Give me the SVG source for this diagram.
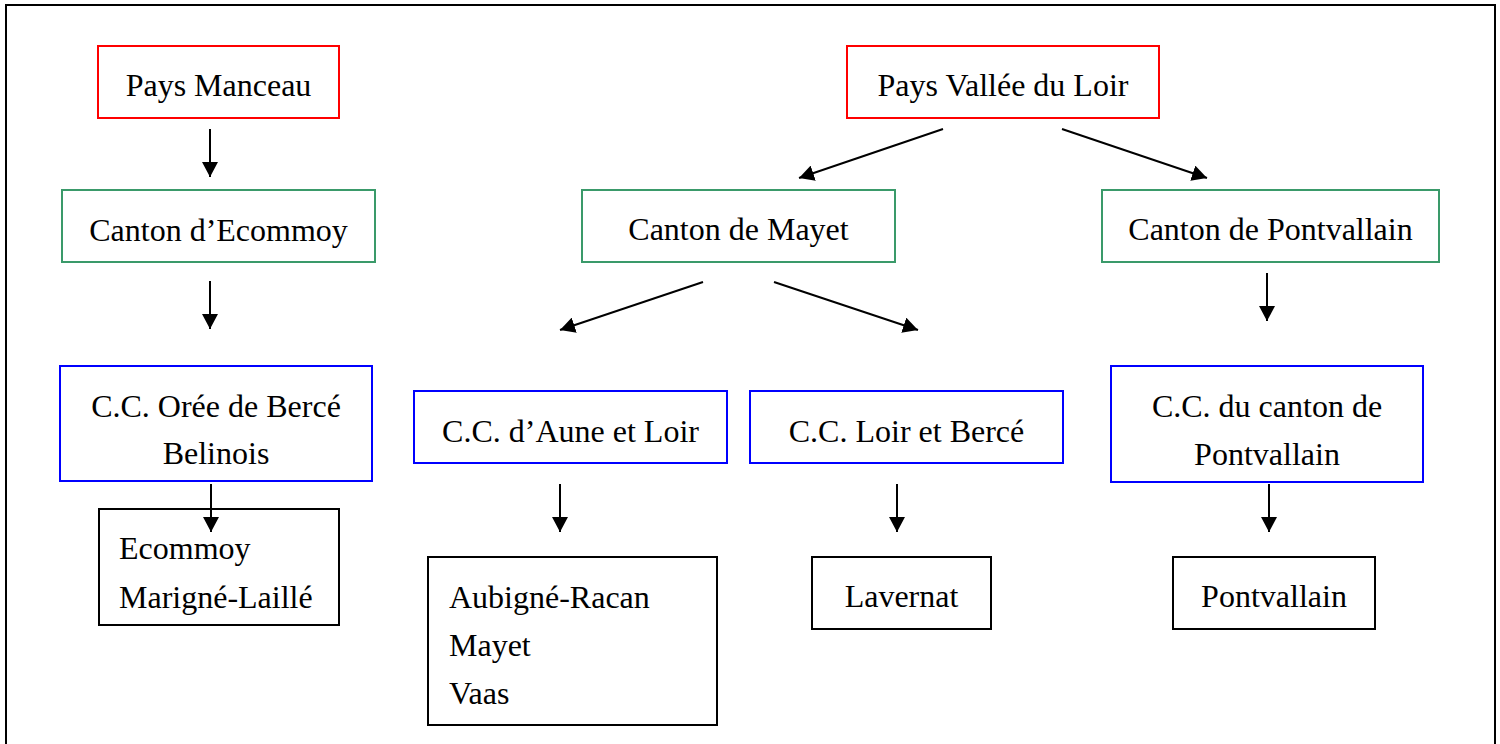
<svg xmlns="http://www.w3.org/2000/svg" width="1500" height="744" viewBox="0 0 1500 744">
  <style>
    .box { fill: #ffffff; stroke-width: 2; }
    .red { stroke: #ff0000; }
    .green { stroke: #3a9a6a; }
    .blue { stroke: #0000ff; }
    .black { stroke: #000000; }
    .t { font-family: "Liberation Serif", "Times New Roman", serif; font-size: 32px; fill: #000000; }
    .c { text-anchor: middle; }
    .conn line { stroke: #000000; stroke-width: 2; marker-end: url(#arrow); }
  </style>
  <defs>
    <marker id="arrow" markerUnits="userSpaceOnUse" viewBox="0 0 15 16" refX="15" refY="8" markerWidth="15" markerHeight="16" orient="auto">
      <path d="M0,0 L15,8 L0,16 z" fill="#000000"/>
    </marker>
  </defs>
  <rect x="0" y="0" width="1500" height="744" fill="#ffffff"/>
  <rect x="6" y="5" width="1489" height="780" fill="none" stroke="#000000" stroke-width="2"/>

  <g id="pays-manceau">
    <rect class="box red" x="98" y="46" width="241" height="72"/>
    <text class="t c" x="218.5" y="96">Pays Manceau</text>
  </g>
  <g id="pays-vallee-du-loir">
    <rect class="box red" x="847" y="46" width="312" height="72"/>
    <text class="t c" x="1003" y="96">Pays Vallée du Loir</text>
  </g>
  <g id="canton-ecommoy">
    <rect class="box green" x="62" y="190" width="313" height="72"/>
    <text class="t c" x="218.5" y="241">Canton d’Ecommoy</text>
  </g>
  <g id="canton-mayet">
    <rect class="box green" x="582" y="190" width="313" height="72"/>
    <text class="t c" x="738.5" y="240">Canton de Mayet</text>
  </g>
  <g id="canton-pontvallain">
    <rect class="box green" x="1102" y="190" width="337" height="72"/>
    <text class="t c" x="1270.5" y="240">Canton de Pontvallain</text>
  </g>
  <g id="cc-oree-de-berce">
    <rect class="box blue" x="60" y="366" width="312" height="115"/>
    <text class="t c" x="216" y="417">C.C. Orée de Bercé</text>
    <text class="t c" x="216" y="464">Belinois</text>
  </g>
  <g id="cc-aune-et-loir">
    <rect class="box blue" x="414" y="391" width="313" height="72"/>
    <text class="t c" x="570.5" y="442">C.C. d’Aune et Loir</text>
  </g>
  <g id="cc-loir-et-berce">
    <rect class="box blue" x="750" y="391" width="313" height="72"/>
    <text class="t c" x="906.5" y="442">C.C. Loir et Bercé</text>
  </g>
  <g id="cc-canton-pontvallain">
    <rect class="box blue" x="1111" y="366" width="312" height="116"/>
    <text class="t c" x="1267" y="417">C.C. du canton de</text>
    <text class="t c" x="1267" y="465">Pontvallain</text>
  </g>
  <g id="communes-ecommoy">
    <rect class="box black" x="99" y="509" width="240" height="116"/>
    <text class="t" x="119" y="559">Ecommoy</text>
    <text class="t" x="119" y="608">Marigné-Laillé</text>
  </g>
  <g id="communes-aune-loir">
    <rect class="box black" x="428" y="557" width="289" height="168"/>
    <text class="t" x="449" y="608">Aubigné-Racan</text>
    <text class="t" x="449" y="656">Mayet</text>
    <text class="t" x="449" y="704">Vaas</text>
  </g>
  <g id="communes-loir-berce">
    <rect class="box black" x="812" y="557" width="179" height="72"/>
    <text class="t c" x="901.5" y="607">Lavernat</text>
  </g>
  <g id="communes-pontvallain">
    <rect class="box black" x="1173" y="557" width="202" height="72"/>
    <text class="t c" x="1274" y="607">Pontvallain</text>
  </g>

  <g id="connectors" class="conn">
    <line x1="210" y1="129" x2="210" y2="177"/>
    <line x1="210" y1="281" x2="210" y2="329"/>
    <line x1="211" y1="484" x2="211" y2="532"/>
    <line x1="943" y1="129" x2="799" y2="178"/>
    <line x1="1062" y1="129" x2="1207" y2="178"/>
    <line x1="703" y1="282" x2="560" y2="330"/>
    <line x1="774" y1="282" x2="918" y2="330"/>
    <line x1="1267" y1="273" x2="1267" y2="321"/>
    <line x1="560" y1="484" x2="560" y2="532"/>
    <line x1="897" y1="484" x2="897" y2="532"/>
    <line x1="1269" y1="484" x2="1269" y2="532"/>
  </g>
</svg>
